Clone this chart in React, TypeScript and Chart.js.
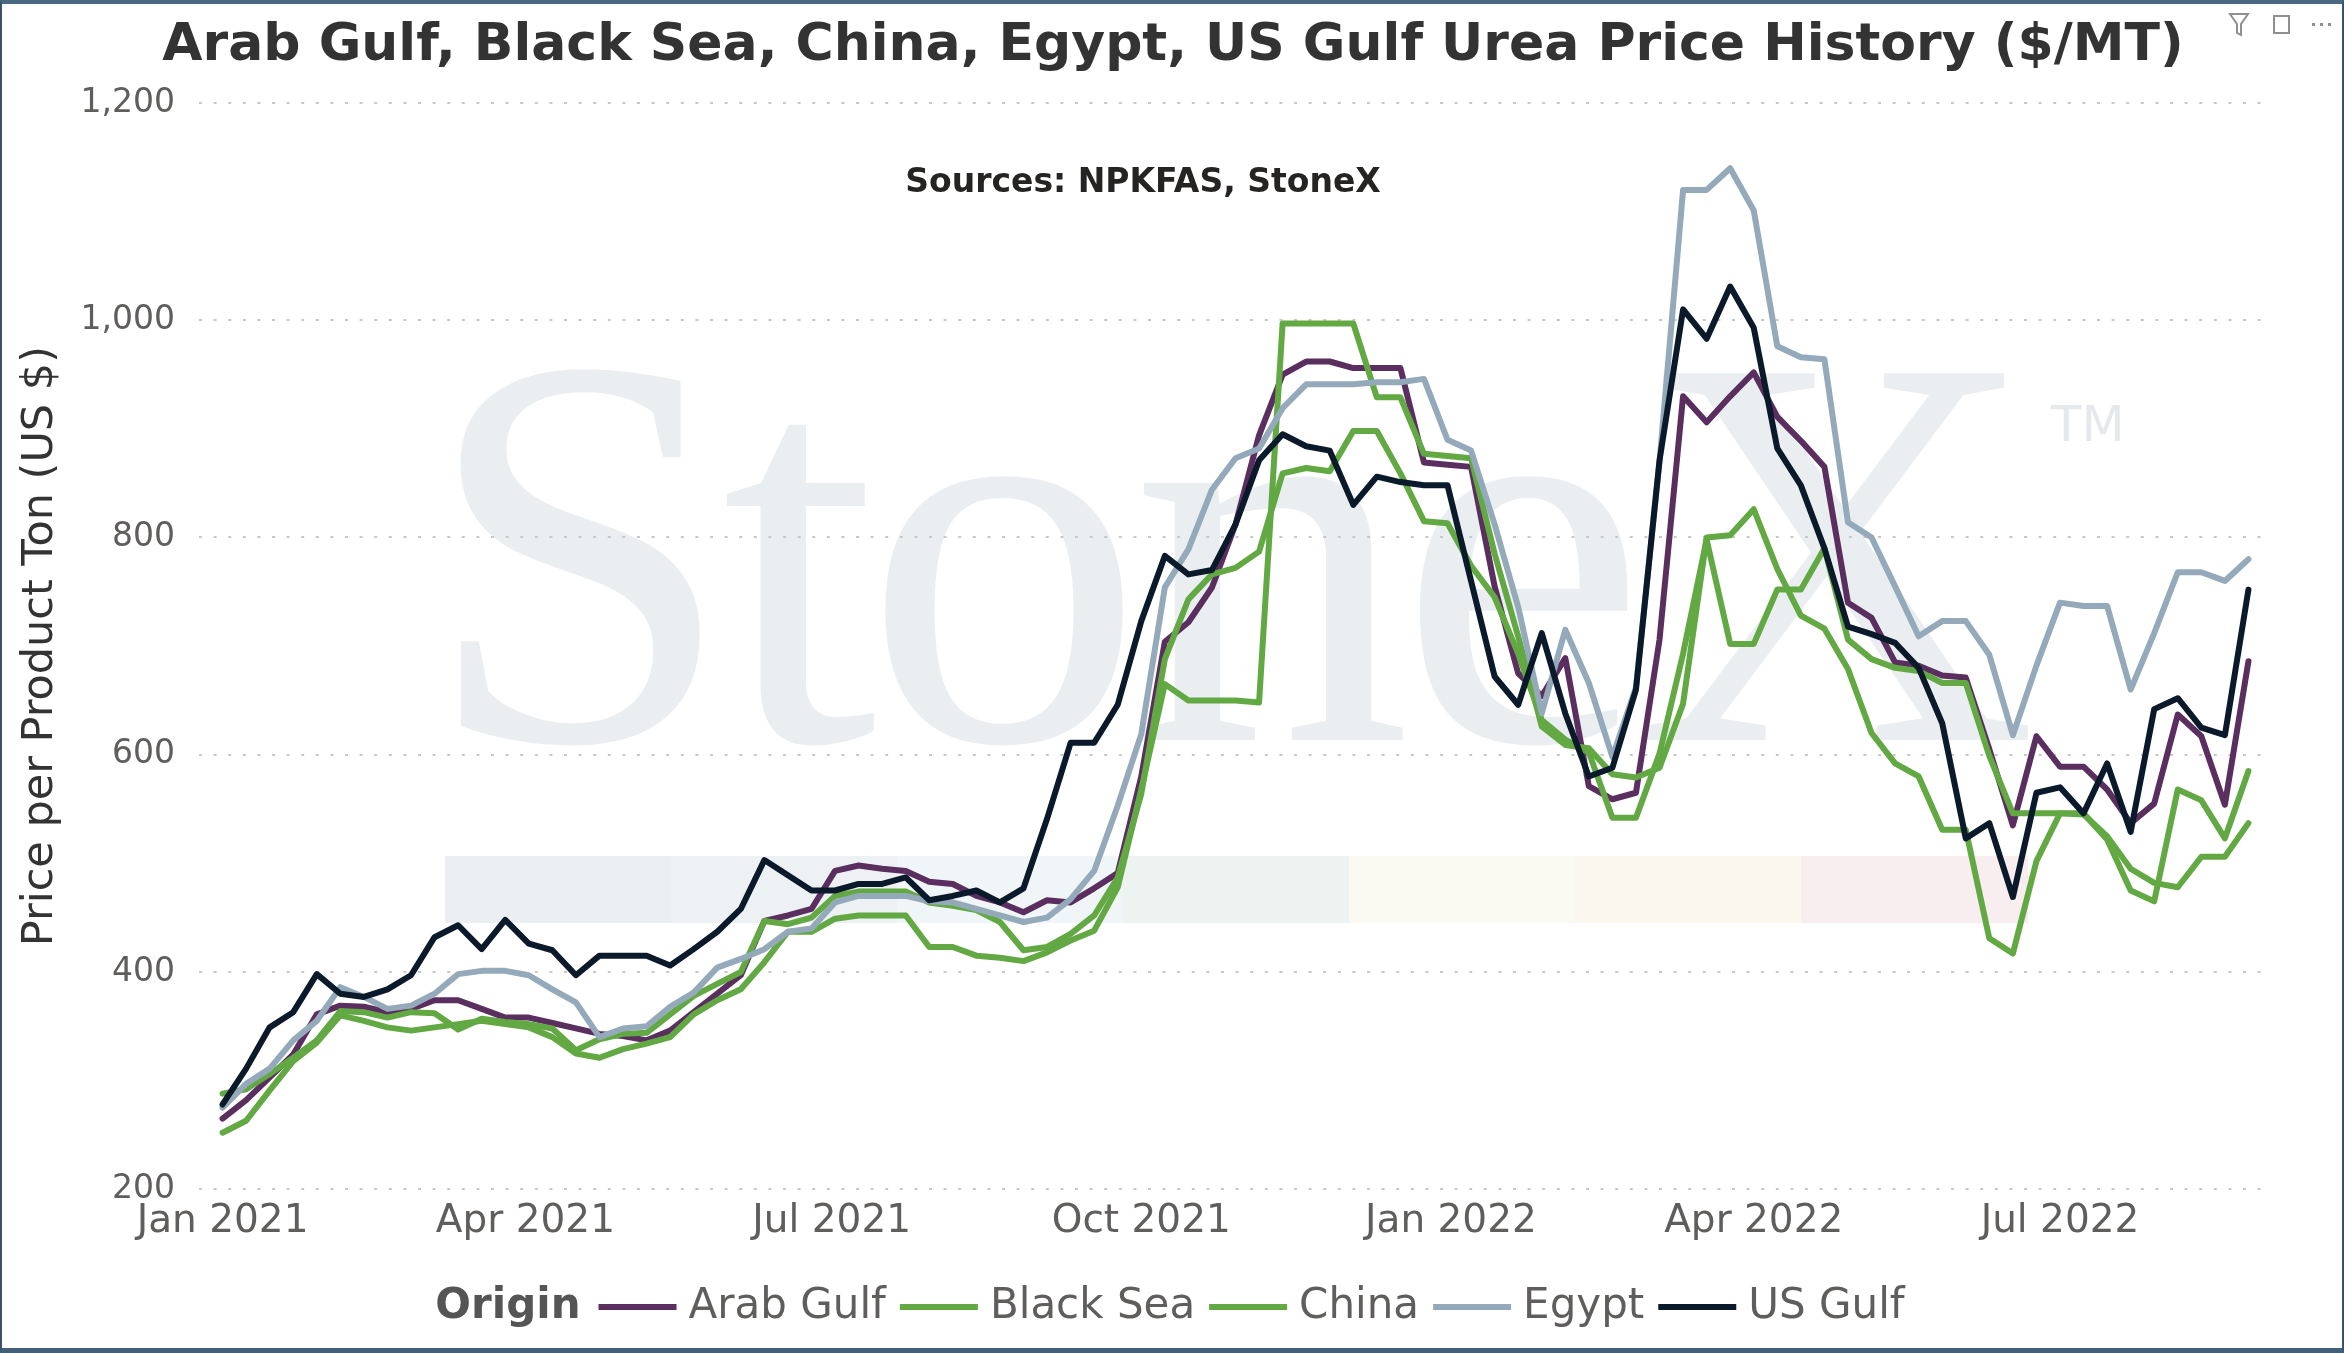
import React, { useEffect, useRef } from 'react';
import Chart from 'chart.js/auto';

// weekly observations, x = days after 1 Jan 2021
const WEEKS = 87;
const weekDays = Array.from({ length: WEEKS }, (_, i) => i * 7);

const tickDays = [0, 90, 181, 273, 365, 455, 546];
const tickLabels = ['Jan 2021', 'Apr 2021', 'Jul 2021', 'Oct 2021', 'Jan 2022', 'Apr 2022', 'Jul 2022'];

const arabGulf = [
  265, 282, 303, 324, 361, 369, 368, 363, 366, 374,
  374, 366, 358, 358, 353, 348, 343, 341, 337, 346,
  363, 380, 397, 447, 452, 458, 493, 498, 495, 493,
  483, 481, 470, 464, 455, 466, 464, 477, 491, 580,
  704, 722, 754, 812, 894, 950, 962, 962, 956, 956,
  956, 869, 867, 865, 755, 675, 654, 689, 571, 559,
  565, 706, 930, 906, 930, 952, 911, 889, 865, 740,
  726, 685, 682, 673, 671, 605, 535, 617, 589, 589,
  568, 537, 555, 637, 617, 554, 686,
];

const blackSea = [
  288, 292, 306, 321, 337, 364, 363, 358, 363, 362,
  347, 357, 354, 352, 348, 328, 338, 343, 344, 361,
  378, 389, 400, 447, 444, 450, 470, 474, 474, 474,
  464, 461, 457, 446, 420, 423, 435, 452, 487, 564,
  688, 743, 766, 772, 787, 859, 864, 861, 898, 898,
  859, 815, 813, 774, 745, 693, 632, 614, 602, 542,
  542, 601, 693, 798, 702, 702, 752, 752, 790, 706,
  688, 680, 677, 666, 666, 599, 546, 546, 546, 545,
  525, 495, 482, 478, 506, 506, 537,
];

const china = [
  252, 263, 291, 318, 335, 360, 355, 349, 346, 349,
  352, 355, 352, 349, 340, 325, 321, 329, 334, 340,
  361, 374, 384, 409, 437, 437, 449, 452, 452, 452,
  423, 423, 415, 413, 410, 418, 429, 438, 478, 568,
  665, 650, 650, 650, 648, 997, 997, 997, 997, 929,
  929, 877, 875, 873, 785, 709, 626, 609, 606, 582,
  579, 588, 647, 800, 802, 826, 771, 728, 716, 679,
  620, 592, 580, 531, 531, 431, 417, 502, 546, 546,
  522, 475, 465, 568, 558, 523, 585,
];

const egypt = [
  275, 297, 311, 337, 355, 386, 377, 366, 369, 380,
  398, 401, 401, 397, 384, 372, 340, 348, 350, 368,
  381, 404, 412, 421, 437, 440, 464, 470, 470, 470,
  465, 464, 458, 452, 446, 450, 467, 493, 553, 619,
  754, 789, 844, 873, 882, 919, 941, 941, 941, 943,
  943, 946, 890, 880, 812, 736, 638, 715, 666, 598,
  662, 870, 1120, 1120, 1140, 1101, 976, 966, 964, 814,
  800, 755, 709, 723, 723, 692, 618, 682, 740, 737,
  737, 660, 712, 768, 768, 760, 780,
];

const usGulf = [
  278, 311, 349, 363, 398, 380, 377, 384, 397, 432,
  443, 421, 448, 426, 420, 397, 415, 415, 415, 406,
  421, 437, 458, 503, 489, 475, 475, 481, 481, 487,
  466, 470, 475, 464, 477, 541, 611, 611, 646, 723,
  783, 766, 770, 812, 871, 895, 884, 880, 830, 856,
  851, 848, 848, 760, 672, 646, 712, 638, 580, 588,
  660, 871, 1010, 983, 1031, 993, 882, 848, 790, 718,
  711, 703, 680, 629, 523, 537, 469, 565, 570, 546,
  592, 529, 642, 652, 625, 618, 752,
];

const seriesNames = ['Arab Gulf', 'Black Sea', 'China', 'Egypt', 'US Gulf'];
const seriesValues = [arabGulf, blackSea, china, egypt, usGulf];
const seriesColors = ['#5A2E5F', '#62A843', '#62A843', '#94AABA', '#0A1A2A'];

const bandColors = ['#EBEFF2', '#EDF1F4', '#F0F5F8', '#EDF3F0', '#FAFAF2', '#FBF7EE', '#F8EEF0'];

const FONT = '"DejaVu Sans", Verdana, sans-serif';

const decorPlugin = {
  id: 'decor',
  beforeDraw(chart: any) {
    const { ctx, width, height } = chart;
    ctx.save();
    ctx.fillStyle = '#ffffff';
    ctx.fillRect(0, 0, width, height);
    // logo watermark
    bandColors.forEach((c, k) => {
      ctx.fillStyle = c;
      ctx.fillRect(443 + k * 226, 852, 227, 67);
    });
    ctx.fillStyle = '#EBEEF1';
    ctx.font = '560px "Liberation Serif", serif';
    ctx.textBaseline = 'alphabetic';
    ctx.textAlign = 'left';
    try { ctx.letterSpacing = '-13px'; } catch (e) { /* ignore */ }
    ctx.fillText('StoneX', 421, 736);
    try { ctx.letterSpacing = '0px'; } catch (e) { /* ignore */ }
    ctx.fillStyle = '#E6E9EC';
    ctx.font = `50px ${FONT}`;
    ctx.fillText('TM', 2049, 437);
    ctx.restore();
  },
  afterDraw(chart: any) {
    const { ctx, width, height } = chart;
    ctx.save();
    // title
    ctx.fillStyle = '#333333';
    ctx.textAlign = 'center';
    ctx.textBaseline = 'alphabetic';
    ctx.font = `bold 52px ${FONT}`;
    ctx.fillText('Arab Gulf, Black Sea, China, Egypt, US Gulf Urea Price History ($/MT)', width / 2 + 1, 56);
    ctx.font = `bold 33px ${FONT}`;
    ctx.fillStyle = '#252423';
    ctx.textBaseline = 'middle';
    ctx.fillText('Sources: NPKFAS, StoneX', 1141, 179);

    // header icons
    ctx.strokeStyle = '#8f8f8f';
    ctx.lineWidth = 2;
    ctx.beginPath();
    ctx.moveTo(2228, 10); ctx.lineTo(2246, 10); ctx.lineTo(2239, 20); ctx.lineTo(2239, 31);
    ctx.lineTo(2235, 29); ctx.lineTo(2235, 20); ctx.closePath();
    ctx.stroke();
    ctx.strokeRect(2272, 12, 15, 17);
    ctx.fillStyle = '#8f8f8f';
    [2310, 2318, 2326].forEach((x) => ctx.fillRect(x, 19, 3, 3));

    // legend
    const ds = chart.data.datasets;
    ctx.font = `bold 42px ${FONT}`;
    const originW = ctx.measureText('Origin').width;
    ctx.font = `42px ${FONT}`;
    const widths = ds.map((d: any) => ctx.measureText(d.label).width);
    const markW = 78;
    const total = originW + 18 + widths.reduce((s: number, w: number) => s + markW + 12 + w, 0) + 14 * (ds.length - 1);
    let x = (width - total) / 2 - 2;
    const y = height - 41;
    ctx.textAlign = 'left';
    ctx.textBaseline = 'middle';
    ctx.fillStyle = '#555555';
    ctx.font = `bold 42px ${FONT}`;
    ctx.fillText('Origin', x, y);
    x += originW + 18;
    ctx.font = `42px ${FONT}`;
    ds.forEach((d: any, k: number) => {
      ctx.fillStyle = d.borderColor;
      ctx.fillRect(x, y - 3, markW, 6);
      x += markW + 12;
      ctx.fillStyle = '#605E5C';
      ctx.fillText(d.label, x, y);
      x += widths[k] + 14;
    });
    ctx.restore();
  },
};

export default function App() {
  const canvasRef = useRef<HTMLCanvasElement>(null);
  const chartRef = useRef<Chart | null>(null);

  useEffect(() => {
    if (!canvasRef.current) return;
    if (chartRef.current) chartRef.current.destroy();

    const datasets = seriesNames.map((name, k) => ({
      label: name,
      data: weekDays.map((d, i) => ({ x: d, y: seriesValues[k][i] })),
      borderColor: seriesColors[k],
      backgroundColor: seriesColors[k],
      borderWidth: 6,
      pointRadius: 0,
      tension: 0,
      borderJoinStyle: 'round' as const,
      borderCapStyle: 'round' as const,
      order: seriesNames.length - k,
    }));

    chartRef.current = new Chart(canvasRef.current, {
      type: 'line',
      data: { datasets },
      plugins: [decorPlugin],
      options: {
        responsive: true,
        maintainAspectRatio: false,
        animation: false,
        layout: { padding: { top: 99, left: 0, right: 70, bottom: 102 } },
        plugins: {
          legend: { display: false },
          tooltip: { enabled: false },
          title: { display: false },
        },
        scales: {
          x: {
            type: 'linear',
            min: -7,
            max: 609,
            grid: { display: false },
            border: { display: false },
            afterBuildTicks: (axis: any) => {
              axis.ticks = tickDays.map((v) => ({ value: v }));
            },
            ticks: {
              autoSkip: false,
              maxRotation: 0,
              padding: 1,
              color: '#605E5C',
              font: { family: FONT, size: 39 },
              callback: (v: any) => {
                const idx = tickDays.indexOf(Number(v));
                return idx >= 0 ? tickLabels[idx] : '';
              },
            },
          },
          y: {
            min: 200,
            max: 1200,
            afterFit: (scale: any) => {
              scale.width = 197;
            },
            grid: { color: '#C8C8C8', lineWidth: 2, drawTicks: false },
            border: { display: false, dash: [3, 11.6] },
            ticks: {
              stepSize: 200,
              padding: 24,
              color: '#605E5C',
              font: { family: FONT, size: 33 },
              callback: (v: any) => Number(v).toLocaleString('en-US'),
            },
            title: {
              display: true,
              text: 'Price per Product Ton (US $)',
              color: '#333333',
              font: { family: FONT, size: 43 },
              padding: { top: 13, bottom: 0 },
            },
          },
        },
      },
    });

    return () => {
      if (chartRef.current) {
        chartRef.current.destroy();
        chartRef.current = null;
      }
    };
  }, []);

  return (
    <div
      style={{
        position: 'fixed',
        left: 0,
        top: 0,
        width: '100vw',
        height: '100vh',
        boxSizing: 'border-box',
        borderTop: '4px solid #4A6880',
        borderLeft: '2px solid #3B5366',
        borderRight: '2px solid #3B5366',
        borderBottom: '5px solid #43607A',
        background: '#ffffff',
      }}
    >
      <div style={{ position: 'relative', width: '100%', height: '100%' }}>
        <canvas ref={canvasRef}></canvas>
      </div>
    </div>
  );
}
